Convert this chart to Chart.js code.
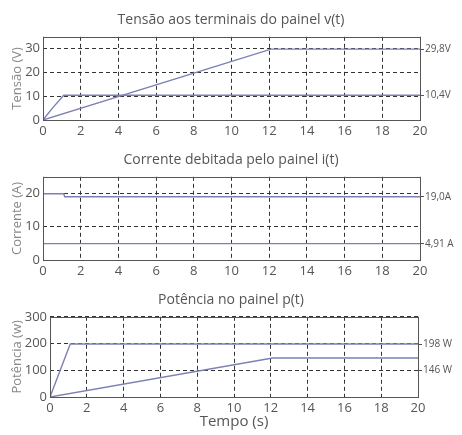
<!DOCTYPE html>
<html>
<head>
<meta charset="utf-8">
<script src="https://cdn.jsdelivr.net/npm/chart.js@4/dist/chart.umd.min.js"></script>
<style>
  body { margin: 0; background: #fff; }
  .wrap { position: relative; width: 462px; height: 435px; }
  canvas { position: absolute; left: 0; }
</style>
</head>
<body>
<div class="wrap">
  <canvas id="chartV" width="462" height="140" style="top:0"></canvas>
  <canvas id="chartI" width="462" height="140" style="top:140px"></canvas>
  <canvas id="chartP" width="462" height="155" style="top:280px"></canvas>
</div>
<script>
// Eixo do tempo (s)
const tempoTicks = [0, 2, 4, 6, 8, 10, 12, 14, 16, 18, 20];

// Tensão v(t)
const vTicks = [0, 10, 20, 30];
const vAx = [0, 0.5, 1.1, 20];
const vA = [0, 5, 10.4, 10.4];
const vBx = [0, 12.1, 20];
const vB = [0, 29.8, 29.8];
const vMarcas = [29.8, 10.4];
const vTextos = ['29,8V', '10,4V'];

// Corrente i(t)
const iTicks = [0, 10, 20];
const iAx = [0, 1.1, 1.15, 20];
const iA = [19.9, 19.9, 19.0, 19.0];
const iBx = [0, 20];
const iB = [4.91, 4.91];
const iMarcas = [19.0, 4.91];
const iTextos = ['19,0A', '4,91 A'];

// Potência p(t)  (no original a etiqueta 146 W fica na linha dos 100)
const pTicks = [0, 100, 200, 300];
const pAx = [0, 1.1, 20];
const pA = [0, 198, 198];
const pBx = [0, 12.1, 20];
const pB = [0, 146, 146];
const pMarcas = [198, 100];
const pTextos = ['198 W', '146 W'];

const FONTE = "'Open Sans', 'DejaVu Sans', sans-serif";
const COR_TEXTO = '#555';
const COR_LINHA = '#7c80b4';

// moldura sólida à volta da área do gráfico
const moldura = {
    id: 'moldura',
    afterDatasetsDraw(chart) {
        const a = chart.chartArea;
        const ctx = chart.ctx;
        ctx.save();
        ctx.strokeStyle = '#555';
        ctx.lineWidth = 1;
        ctx.strokeRect(Math.round(a.left) + 0.5, Math.round(a.top) + 0.5,
            Math.round(a.right - a.left), Math.round(a.bottom - a.top));
        ctx.restore();
    }
};

function pontos(xs, ys) {
    return xs.map((x, k) => ({ x: x, y: ys[k] }));
}

function criarGrafico(id, cfg) {
    const ctx = document.getElementById(id).getContext('2d');
    const xEixo = {
        type: 'linear',
        min: 0,
        max: 20,
        afterBuildTicks: s => { s.ticks = tempoTicks.map(v => ({ value: v })); },
        afterFit: s => { s.height = cfg.alturaX; },
        grid: { color: '#333', lineWidth: 1, drawTicks: false },
        border: { display: false, dash: [4, 3] },
        ticks: { color: COR_TEXTO, padding: 3, maxRotation: 0, font: { family: FONTE, size: 13 } }
    };
    if (cfg.tituloX) {
        xEixo.title = {
            display: true, text: cfg.tituloX, color: COR_TEXTO,
            font: { family: FONTE, size: 15 }, padding: { top: 0, bottom: 4 }
        };
    }
    return new Chart(ctx, {
        type: 'line',
        data: {
            datasets: cfg.series.map(s => ({
                data: pontos(s[0], s[1]),
                borderColor: COR_LINHA,
                borderWidth: 1.4,
                pointRadius: 0,
                tension: 0,
                fill: false
            }))
        },
        options: {
            responsive: false,
            animation: false,
            layout: { padding: 0 },
            plugins: {
                legend: { display: false },
                tooltip: { enabled: false },
                title: {
                    display: true, text: cfg.titulo, color: COR_TEXTO,
                    font: { family: FONTE, size: 14, weight: 'normal' },
                    padding: { top: 12, bottom: 8 }
                }
            },
            scales: {
                x: xEixo,
                y: {
                    min: cfg.min,
                    max: cfg.max,
                    afterBuildTicks: s => { s.ticks = cfg.ticks.map(v => ({ value: v })); },
                    afterFit: s => { s.width = cfg.esquerda; },
                    grid: { color: '#333', lineWidth: 1, drawTicks: false },
                    border: { display: false, dash: [4, 3] },
                    ticks: { color: COR_TEXTO, padding: 3, font: { family: FONTE, size: 13 } },
                    title: {
                        display: true, text: cfg.tituloY, color: '#888',
                        font: { family: FONTE, size: 13 }, padding: { top: 9, bottom: 0 }
                    }
                },
                y2: {
                    position: 'right',
                    min: cfg.min,
                    max: cfg.max,
                    afterBuildTicks: s => { s.ticks = cfg.marcas.map(v => ({ value: v })); },
                    afterFit: s => { s.width = 462 - cfg.direita; },
                    grid: { drawOnChartArea: false, drawTicks: true, tickLength: 4, tickColor: '#555' },
                    border: { display: false },
                    ticks: {
                        color: COR_TEXTO, padding: 1, font: { family: FONTE, size: 10 },
                        callback: (v, k) => cfg.textos[k]
                    }
                }
            }
        },
        plugins: [moldura]
    });
}

criarGrafico('chartV', {
    titulo: 'Tensão aos terminais do painel v(t)',
    tituloY: 'Tensão (V)',
    min: 0, max: 35, ticks: vTicks,
    marcas: vMarcas, textos: vTextos,
    series: [[vAx, vA], [vBx, vB]],
    esquerda: 43, direita: 420, alturaX: 20
});

criarGrafico('chartI', {
    titulo: 'Corrente debitada pelo painel i(t)',
    tituloY: 'Corrente (A)',
    min: 0, max: 25, ticks: iTicks,
    marcas: iMarcas, textos: iTextos,
    series: [[iAx, iA], [iBx, iB]],
    esquerda: 43, direita: 420, alturaX: 20
});

criarGrafico('chartP', {
    titulo: 'Potência no painel p(t)',
    tituloY: 'Potência (w)',
    tituloX: 'Tempo (s)',
    min: 0, max: 300, ticks: pTicks,
    marcas: pMarcas, textos: pTextos,
    series: [[pAx, pA], [pBx, pB]],
    esquerda: 50, direita: 418, alturaX: 38
});
</script>
</body>
</html>
